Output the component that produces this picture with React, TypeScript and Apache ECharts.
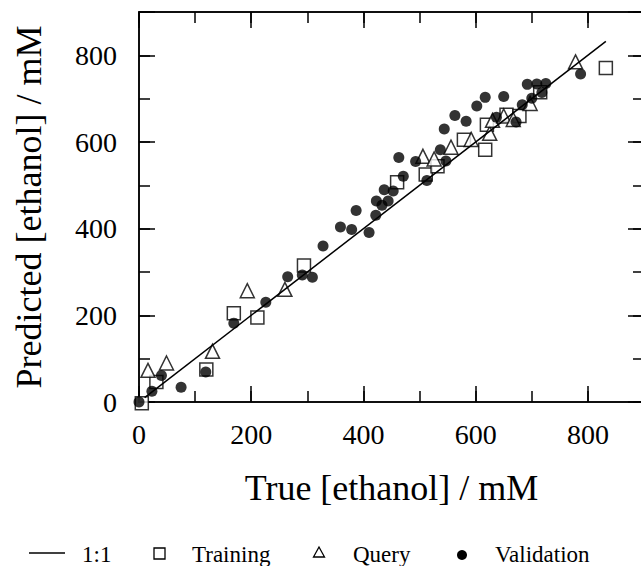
import React, { useEffect, useRef } from "react";
import * as echarts from "echarts";

const SERIES_NAMES = ["1:1", "Training", "Query", "Validation"];
const X_TITLE = "True [ethanol] / mM";
const Y_TITLE = "Predicted [ethanol] / mM";
const AXIS_MIN = 0;
const AXIS_MAX = 900;
const MAJOR_STEP = 200;
const MINOR_STEP = 100;
const TICK_LABELS = [0, 200, 400, 600, 800];

const identityLine = [
  [10, 10],
  [832, 832],
];

const training = [
  [5, -3], [31, 46], [120, 75], [169, 205], [211, 195], [294, 315],
  [460, 507], [511, 525], [532, 544], [579, 605], [617, 582], [620, 640],
  [655, 663], [678, 660], [715, 715], [832, 771],
];

const query = [
  [16, 73], [49, 90], [131, 117], [193, 257], [260, 260], [506, 567],
  [526, 561], [556, 588], [592, 606], [625, 620], [630, 650], [650, 660],
  [667, 652], [697, 689], [778, 785],
];

const validation = [
  [0, 0], [23, 25], [40, 61], [75, 34], [119, 69], [169, 182], [226, 230],
  [265, 289], [291, 293], [309, 288], [328, 360], [359, 404], [379, 398],
  [387, 442], [410, 391], [422, 431], [423, 464], [433, 454], [437, 490],
  [444, 464], [453, 487], [463, 564], [471, 521], [493, 555], [513, 511],
  [537, 582], [544, 630], [547, 556], [563, 661], [583, 648], [602, 683],
  [617, 703], [637, 657], [650, 705], [672, 646], [683, 686], [700, 701],
  [692, 733], [709, 734], [725, 735], [718, 714], [787, 757],
];

const FONT = "'Liberation Serif', 'Times New Roman', serif";
const BLACK = "#000";

function axis(
  kind: "x" | "y",
  position: string,
  gridIndex: number,
  step: number,
  tickLen: number,
  labels: boolean,
  name?: string
): any {
  const a: any = {
    type: "value",
    gridIndex,
    position,
    min: AXIS_MIN,
    max: AXIS_MAX,
    interval: step,
    axisLine: { show: true, onZero: false, lineStyle: { color: BLACK, width: 1.5 } },
    axisTick: { show: true, inside: true, length: tickLen, lineStyle: { color: BLACK, width: 1.5 } },
    axisLabel: labels
      ? {
          show: true,
          margin: kind === "x" ? 18 : 22,
          fontSize: 28,
          fontFamily: FONT,
          color: BLACK,
          formatter: (v: number) => (TICK_LABELS.includes(v) ? String(v) : ""),
        }
      : { show: false },
    splitLine: { show: false },
  };
  if (name) {
    a.name = name;
    a.nameLocation = "middle";
    a.nameGap = kind === "x" ? 68 : 92;
    a.nameTextStyle = { fontSize: 36, fontFamily: FONT, color: BLACK };
  }
  return a;
}

export default function App() {
  const ref = useRef<HTMLDivElement>(null);

  useEffect(() => {
    if (!ref.current) return;
    const chart = echarts.init(ref.current, null, { renderer: "svg" });
    const gridRect = { left: 139, top: 12, width: 505, height: 390, containLabel: false, outerBoundsMode: "none" };
    const option: any = {
      animation: false,
      backgroundColor: "#fff",
      textStyle: { fontFamily: FONT },
      grid: [gridRect, { ...gridRect }],
      xAxis: [
        axis("x", "bottom", 0, MINOR_STEP, 11, false, X_TITLE),
        axis("x", "top", 0, MINOR_STEP, 11, false),
        axis("x", "bottom", 1, MAJOR_STEP, 16, true),
        axis("x", "top", 1, MAJOR_STEP, 16, false),
      ],
      yAxis: [
        axis("y", "left", 0, MINOR_STEP, 11, false, Y_TITLE),
        axis("y", "right", 0, MINOR_STEP, 11, false),
        axis("y", "left", 1, MAJOR_STEP, 16, true),
        axis("y", "right", 1, MAJOR_STEP, 16, false),
      ],
      series: [
        {
          name: SERIES_NAMES[0],
          type: "line",
          xAxisIndex: 0,
          yAxisIndex: 0,
          data: identityLine,
          symbol: "none",
          lineStyle: { color: BLACK, width: 1.5 },
          silent: true,
        },
        {
          name: SERIES_NAMES[1],
          type: "scatter",
          xAxisIndex: 0,
          yAxisIndex: 0,
          data: training,
          symbol: "rect",
          symbolSize: 13,
          clip: false,
          itemStyle: { color: "#fff", borderColor: BLACK, borderWidth: 1.5 },
        },
        {
          name: SERIES_NAMES[2],
          type: "scatter",
          xAxisIndex: 0,
          yAxisIndex: 0,
          data: query,
          symbol: "triangle",
          symbolSize: 14,
          clip: false,
          itemStyle: { color: "#fff", borderColor: BLACK, borderWidth: 1.5 },
        },
        {
          name: SERIES_NAMES[3],
          type: "scatter",
          xAxisIndex: 0,
          yAxisIndex: 0,
          data: validation,
          symbol: "circle",
          symbolSize: 11,
          clip: false,
          itemStyle: { color: BLACK },
        },
      ],
      graphic: [
        { type: "line", shape: { x1: 29, y1: 553, x2: 65, y2: 553 }, style: { stroke: BLACK, lineWidth: 1.5 } },
        { type: "text", x: 82, y: 554, style: { text: SERIES_NAMES[0], fontSize: 23, fontFamily: FONT, fill: BLACK, verticalAlign: "middle" } },
        { type: "rect", shape: { x: 154, y: 548, width: 11, height: 11 }, style: { fill: "#fff", stroke: BLACK, lineWidth: 1.3 } },
        { type: "text", x: 192, y: 554, style: { text: SERIES_NAMES[1], fontSize: 23, fontFamily: FONT, fill: BLACK, verticalAlign: "middle" } },
        { type: "polygon", shape: { points: [[319, 547], [313.5, 557], [324.5, 557]] }, style: { fill: "#fff", stroke: BLACK, lineWidth: 1.3 } },
        { type: "text", x: 353, y: 554, style: { text: SERIES_NAMES[2], fontSize: 23, fontFamily: FONT, fill: BLACK, verticalAlign: "middle" } },
        { type: "circle", shape: { cx: 462, cy: 555, r: 5 }, style: { fill: BLACK } },
        { type: "text", x: 495, y: 554, style: { text: SERIES_NAMES[3], fontSize: 23, fontFamily: FONT, fill: BLACK, verticalAlign: "middle" } },
      ],
    };
    chart.setOption(option);
    return () => chart.dispose();
  }, []);

  return (
    <div
      ref={ref}
      style={{ position: "fixed", left: 0, top: 0, width: 641, height: 566, background: "#fff" }}
    />
  );
}
